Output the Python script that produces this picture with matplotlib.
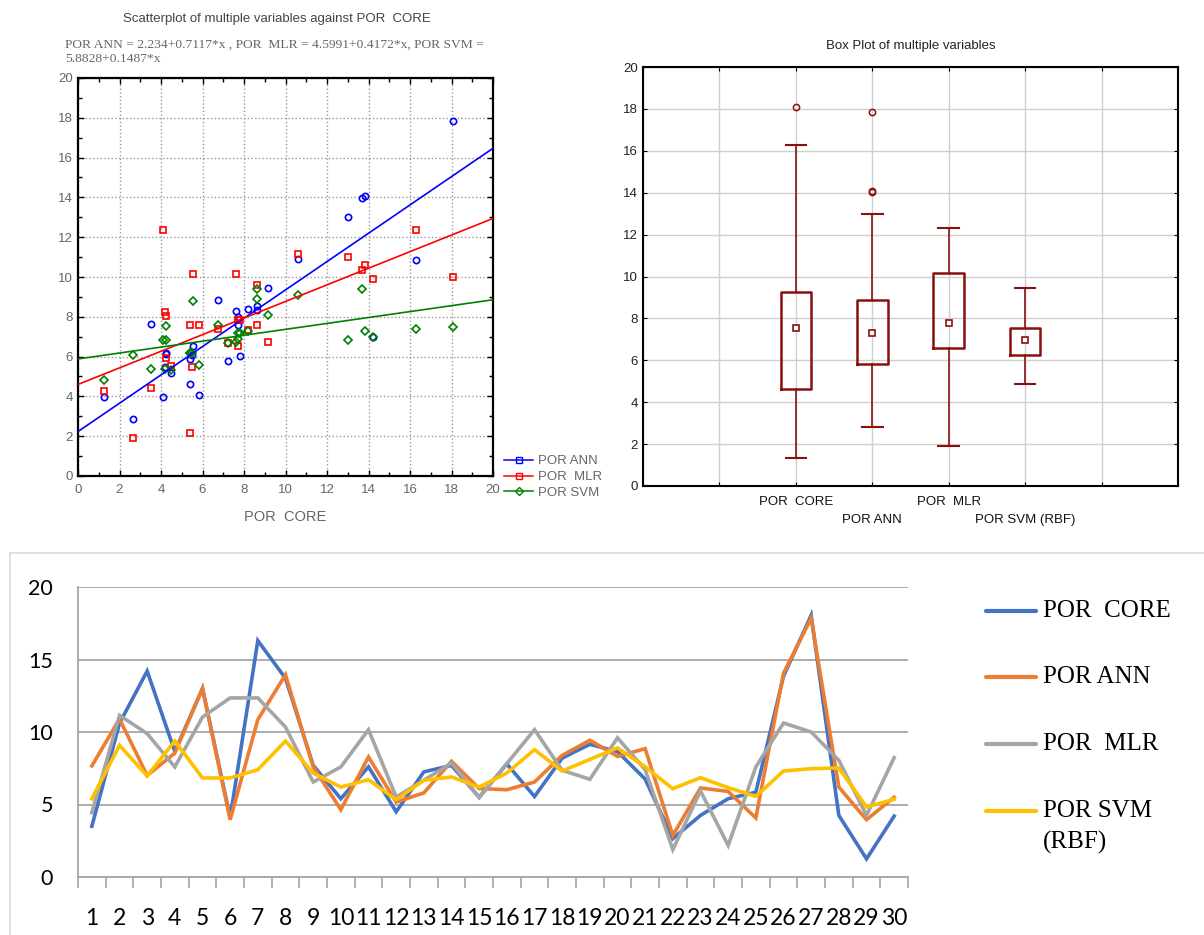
import numpy as np
import matplotlib
matplotlib.use("Agg")
import matplotlib.pyplot as plt
from matplotlib.lines import Line2D
from matplotlib import font_manager
from matplotlib.ticker import MultipleLocator

# ---------------- data ----------------
samples = list(range(1, 31))
por_core = [3.5, 10.6, 14.2, 8.65, 13.0, 4.1, 16.3, 13.7, 7.7, 5.4,
            7.6, 4.5, 7.25, 7.7, 5.5, 7.8, 5.55, 8.2, 9.15, 8.65,
            6.75, 2.65, 4.25, 5.4, 5.85, 13.85, 18.05, 4.25, 1.25, 4.2]
por_ann = [7.66, 10.9, 7.0, 8.55, 13.0, 3.95, 10.85, 13.95, 7.6, 4.64,
           8.28, 5.17, 5.8, 7.98, 6.1, 6.02, 6.55, 8.39, 9.43, 8.32,
           8.85, 2.87, 6.14, 5.9, 4.07, 14.05, 17.85, 6.2, 3.95, 5.5]
por_mlr = [4.44, 11.15, 9.89, 7.59, 11.03, 12.35, 12.35, 10.34, 6.55, 7.59,
           10.16, 5.52, 6.67, 7.86, 5.47, 7.82, 10.16, 7.36, 6.74, 9.6,
           7.4, 1.89, 5.93, 2.18, 7.59, 10.62, 10.0, 8.05, 4.25, 8.23]
por_svm = [5.4, 9.08, 6.97, 9.38, 6.83, 6.83, 7.4, 9.38, 7.17, 6.2,
           6.71, 5.33, 6.67, 6.9, 6.2, 7.17, 8.78, 7.31, 8.11, 8.9,
           7.6, 6.09, 6.85, 6.16, 5.56, 7.31, 7.47, 7.52, 4.83, 5.36]

# fitted lines: y = intercept + slope * x
fit_names = ["POR ANN", "POR  MLR", "POR SVM"]
fit_intercepts = [2.234, 4.5991, 5.8828]
fit_slopes = [0.7117, 0.4172, 0.1487]

# box plot summary (median, quartiles, non-outlier range, outliers)
box_labels = ["POR  CORE", "POR ANN", "POR  MLR", "POR SVM (RBF)"]
box_med = [7.53, 7.32, 7.76, 6.97]
box_q1 = [4.62, 5.80, 6.58, 6.23]
box_q3 = [9.27, 8.89, 10.16, 7.55]
box_lo = [1.34, 2.82, 1.89, 4.87]
box_hi = [16.29, 12.98, 12.30, 9.46]
box_outliers = [[18.08], [17.87, 14.05, 14.1], [], []]

line_labels = ["POR  CORE", "POR ANN", "POR  MLR", "POR SVM\n(RBF)"]

# ---------------- fonts ----------------
installed = {f.name for f in font_manager.fontManager.ttflist}
narrow = "Liberation Sans Narrow" if "Liberation Sans Narrow" in installed else "Liberation Sans"
NARROW = [narrow, "DejaVu Sans"]
SERIF = ["Liberation Serif", "DejaVu Serif"]
CAL = ["Lato", "DejaVu Sans"]

W, H = 1204, 935
fig = plt.figure(figsize=(W / 100, H / 100), dpi=100)


def fx(px):
    return px / W


def fy(py):
    return 1 - py / H


# ---------------- scatter ----------------
ax1 = fig.add_axes([fx(78), fy(476), fx(493) - fx(78), fy(78) - fy(476)])
ax1.set_xlim(0, 20)
ax1.set_ylim(0, 20)
ax1.xaxis.set_major_locator(MultipleLocator(2))
ax1.yaxis.set_major_locator(MultipleLocator(2))
ax1.xaxis.set_minor_locator(MultipleLocator(1))
ax1.yaxis.set_minor_locator(MultipleLocator(1))
ax1.tick_params(which="both", direction="in", top=True, right=True,
                colors="black", labelcolor="#666666", labelsize=9.5)
ax1.tick_params(which="major", length=4, width=1)
ax1.tick_params(which="minor", length=3, width=1)
ax1.tick_params(axis="x", pad=6)
for lab in ax1.get_xticklabels() + ax1.get_yticklabels():
    lab.set_family(NARROW)
ax1.grid(True, which="major", linestyle=":", color="#9a9a9a", linewidth=1)
for sp in ax1.spines.values():
    sp.set_linewidth(1.6)
    sp.set_color("black")

sc_colors = ["#0000ff", "#ff0000", "#008000"]
sc_markers = ["o", "s", "D"]
sc_sizes = [4.5, 5, 4.5]
for yv, c, m, ms in zip([por_ann, por_mlr, por_svm], sc_colors, sc_markers, sc_sizes):
    ax1.plot(por_core, yv, linestyle="none", marker=m, markersize=ms,
             markerfacecolor="none", markeredgecolor=c, markeredgewidth=1.2,
             zorder=3)
xfit = np.array([0.0, 20.0])
for b0, b1, c in zip(fit_intercepts, fit_slopes, sc_colors):
    ax1.plot(xfit, b0 + b1 * xfit, color=c, linewidth=1.2, zorder=4)

ax1.set_xlabel("POR  CORE", family=NARROW, fontsize=10.5, color="#666666",
               labelpad=10)

fig.text(fx(277), fy(19), "Scatterplot of multiple variables against POR  CORE",
         ha="center", va="center", family=NARROW, fontsize=9.5, color="#444444")
fig.text(fx(65), fy(45), "POR ANN = 2.234+0.7117*x , POR  MLR = 4.5991+0.4172*x, POR SVM =",
         ha="left", va="center", family=SERIF, fontsize=9.7, color="#666666")
fig.text(fx(65), fy(59), "5.8828+0.1487*x",
         ha="left", va="center", family=SERIF, fontsize=9.7, color="#666666")

leg_handles = [Line2D([], [], color=c, marker=m, markersize=4.5,
                      markerfacecolor="none", markeredgecolor=c, linewidth=1.1)
               for c, m in zip(sc_colors, ["s", "s", "D"])]
fig.legend(leg_handles, fit_names, loc="upper left",
           bbox_to_anchor=(fx(504), fy(455)), frameon=False,
           prop={"family": NARROW, "size": 9.5}, labelcolor="#666666",
           handlelength=2.2, handletextpad=0.4, labelspacing=0.28,
           borderaxespad=0, borderpad=0)

# ---------------- box plot ----------------
ax2 = fig.add_axes([fx(643), fy(486), fx(1178) - fx(643), fy(67) - fy(486)])
positions = [2, 3, 4, 5]
stats = []
for i, lab in enumerate(box_labels):
    stats.append(dict(label=lab, med=box_med[i], mean=box_med[i],
                      q1=box_q1[i], q3=box_q3[i],
                      whislo=box_lo[i], whishi=box_hi[i],
                      fliers=box_outliers[i]))
bc = "#8b0f0f"
ax2.bxp(stats, positions=positions, widths=0.4, capwidths=0.27,
        showmeans=True, showfliers=True,
        boxprops=dict(color=bc, linewidth=1.8),
        whiskerprops=dict(color=bc, linewidth=1.2),
        capprops=dict(color=bc, linewidth=1.5),
        medianprops=dict(visible=False),
        meanprops=dict(marker="s", markersize=5, markerfacecolor="white",
                       markeredgecolor=bc, markeredgewidth=1.2),
        flierprops=dict(marker="o", markersize=4.5, markerfacecolor="none",
                        markeredgecolor=bc, markeredgewidth=1.1),
        zorder=3)
ax2.set_xlim(0, 7)
ax2.set_ylim(0, 20)
ax2.set_xticks(range(0, 8))
ax2.set_xticklabels([])
ax2.yaxis.set_major_locator(MultipleLocator(2))
ax2.tick_params(direction="in", top=True, right=True, length=3,
                labelsize=9.5, labelcolor="#222222")
for lab in ax2.get_yticklabels():
    lab.set_family(NARROW)
ax2.grid(True, color="#cfcfcf", linewidth=1)
ax2.set_axisbelow(True)
for sp in ax2.spines.values():
    sp.set_linewidth(1.5)
    sp.set_color("black")
for i, (p, lab) in enumerate(zip(positions, box_labels)):
    yoff = -0.038 if i % 2 == 0 else -0.081
    ax2.text(p, yoff, lab, transform=ax2.get_xaxis_transform(),
             ha="center", va="center", family=NARROW, fontsize=9.5,
             color="#111111")
ax2.set_title("Box Plot of multiple variables", family=NARROW, fontsize=9.5,
              color="#222222", pad=13)

# ---------------- line chart ----------------
fig.add_artist(Line2D([fx(10), fx(10)], [fy(553), 0], color="#d9d9d9", linewidth=1.2))
fig.add_artist(Line2D([fx(10), 1], [fy(553), fy(553)], color="#d9d9d9", linewidth=1.2))

ax3 = fig.add_axes([fx(78), fy(877), fx(908) - fx(78), fy(587) - fy(877)])
line_colors = ["#4472c4", "#ed7d31", "#a5a5a5", "#ffc000"]
series = [por_core, por_ann, por_mlr, por_svm]
for yv, c in zip(series, line_colors):
    ax3.plot(samples, yv, color=c, linewidth=2.6, solid_joinstyle="miter", zorder=3)
ax3.set_xlim(0.5, 30.5)
ax3.set_ylim(0, 20)
ax3.set_yticks([0, 5, 10, 15, 20])
ax3.grid(True, axis="y", color="#a6a6a6", linewidth=1.3)
ax3.set_axisbelow(True)
ax3.set_xticks(np.arange(0.5, 31, 1))
ax3.set_xticklabels([])
ax3.set_xticks(samples, minor=True)
ax3.set_xticklabels([str(s) for s in samples], minor=True)
ax3.tick_params(axis="x", which="major", direction="out", length=8,
                color="#a6a6a6", width=1.2)
ax3.tick_params(axis="x", which="minor", length=0, pad=22, labelsize=16.5)
ax3.tick_params(axis="y", length=0, pad=18, labelsize=15.5)
for lab in ax3.get_xticklabels(minor=True) + ax3.get_yticklabels():
    lab.set_family(CAL)
    lab.set_color("#000000")
for s in ["top", "right"]:
    ax3.spines[s].set_visible(False)
ax3.spines["left"].set_color("#a6a6a6")
ax3.spines["left"].set_linewidth(1.3)
ax3.spines["bottom"].set_color("#a6a6a6")
ax3.spines["bottom"].set_linewidth(1.3)

# legend of the line chart
row_y = [611, 677, 744, 811]
for ry, c, lab in zip(row_y, line_colors, line_labels):
    fig.add_artist(Line2D([fx(986), fx(1036)], [fy(ry), fy(ry)], color=c,
                          linewidth=3, solid_capstyle="round"))
    for k, part in enumerate(lab.split("\n")):
        fig.text(fx(1043), fy(ry + 31 * k), part, ha="left", va="center",
                 family=SERIF, fontsize=18, color="black")

fig.savefig("out.png", dpi=100)
